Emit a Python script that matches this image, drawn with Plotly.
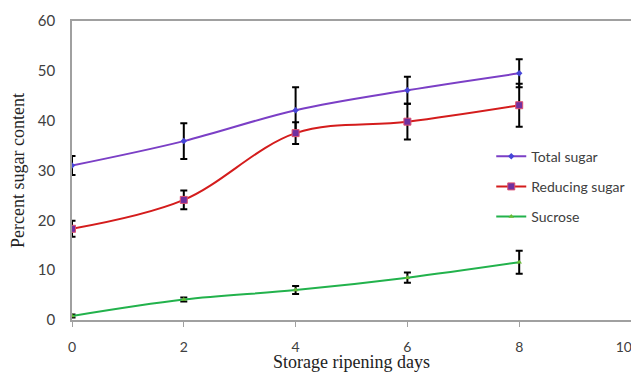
import plotly.graph_objects as go

days = [0, 2, 4, 6, 8]
total_sugar = [31.0, 35.9, 42.1, 46.1, 49.5]
total_err = [1.9, 3.6, 4.6, 2.7, 2.8]
reducing_sugar = [18.3, 24.1, 37.5, 39.8, 43.1]
reducing_err = [1.6, 1.9, 2.2, 3.6, 4.3]
sucrose = [0.8, 4.1, 6.0, 8.5, 11.6]
sucrose_err = [0.3, 0.4, 0.8, 1.05, 2.3]

x_ticks = [0, 2, 4, 6, 8, 10]
x_tick_labels = ["0", "2", "4", "6", "8", "10\u00a0\u00a0\u00a0\u00a0"]
y_ticks = [0, 10, 20, 30, 40, 50, 60]

series = [
    ("Total sugar", total_sugar, total_err, "#7b3fc6", dict(symbol="diamond", size=5, color="#4646d8")),
    ("Reducing sugar", reducing_sugar, reducing_err, "#d41c1c", dict(symbol="square", size=7, color="#7030a0", line=dict(color="#e05070", width=1))),
    ("Sucrose", sucrose, sucrose_err, "#22b24c", dict(symbol="triangle-up", size=5, color="#66bb33")),
]

fig = go.Figure()
for i, (name, ys, err, col, mk) in enumerate(series):
    fig.add_trace(go.Scatter(
        x=days, y=ys, name=name, mode="lines+markers",
        line=dict(color=col, width=2, shape="spline", smoothing=1.0),
        marker=mk,
        error_y=dict(type="data", array=err, visible=True, color="black", thickness=2, width=3.5),
        legendgroup=f"g{i}",
    ))

# page body has an 8px default margin, so the figure is sized/offset to compensate
fig.update_layout(
    width=631, height=364,
    margin=dict(l=64, r=8, t=13, b=52),
    paper_bgcolor="white", plot_bgcolor="white",
    font=dict(family="Lato, Open Sans, sans-serif", size=15, color="#404040"),
    showlegend=True,
    legend=dict(x=0.75, y=0.6, xanchor="left", yanchor="top", bgcolor="rgba(0,0,0,0)",
                tracegroupgap=9, font=dict(size=14, color="#404040"), itemwidth=30),
)
fig.update_xaxes(
    range=[0, 10], tickvals=x_ticks, ticktext=x_tick_labels,
    showgrid=False, zeroline=False, showline=True, linecolor="#a0a0a0", linewidth=1.5,
    mirror=True, ticks="outside", ticklen=5, tickcolor="#a0a0a0", ticklabelstandoff=8,
    tickfont=dict(size=14), ticklabeloverflow="allow", automargin=False,
    title=dict(text="Storage ripening days", font=dict(family="Liberation Serif, Times New Roman, serif", size=18, color="#222222"), standoff=5),
)
fig.update_yaxes(
    range=[0, 60], tickvals=y_ticks, ticktext=[str(v) for v in y_ticks],
    showgrid=False, zeroline=False, showline=True, linecolor="#a0a0a0", linewidth=1.5,
    mirror=True, ticks="", ticklabelstandoff=12, automargin=False,
    title=dict(text="Percent sugar content", font=dict(family="Liberation Serif, Times New Roman, serif", size=18, color="#222222"), standoff=13),
)

fig.write_html("out.html")
